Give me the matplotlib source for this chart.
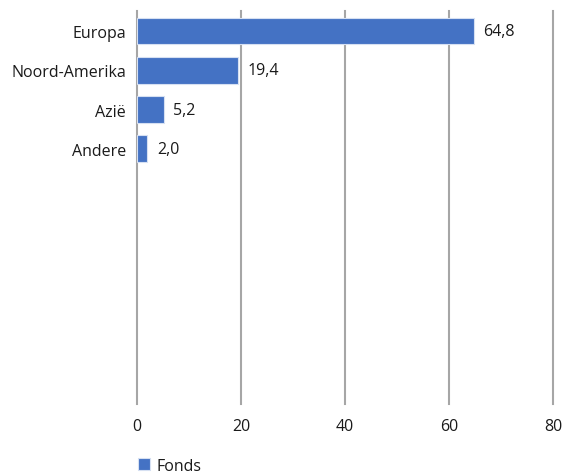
import numpy as np
import matplotlib.pyplot as plt

plt.rcParams['font.family'] = ['Open Sans', 'DejaVu Sans']

categories = ['Europa', 'Noord-Amerika', 'Azië', 'Andere']
values = [64.8, 19.4, 5.2, 2.0]
series_name = 'Fonds'
xticks = [0, 20, 40, 60, 80]
n_slots = 10  # chart keeps room for 10 rows, only 4 filled

bar_color = '#4472C4'
grid_color = '#A6A6A6'
text_color = '#1A1A1A'

fig = plt.figure(figsize=(5.65, 4.77), dpi=100)
ax = fig.add_axes([0.2425, 0.151, 0.7365, 0.823])

y = np.arange(len(categories))
bars = ax.barh(y, values, height=0.68, color=bar_color, edgecolor='#D6E0F2',
               linewidth=0.8, label=series_name, zorder=3)

for b, v in zip(bars, values):
    ax.text(b.get_width() + 1.8, b.get_y() + b.get_height() / 2,
            f'{v:.1f}'.replace('.', ','), va='center', ha='left',
            fontsize=11.5, color=text_color)

ax.set_xlim(0, 80)
ax.set_ylim(n_slots - 0.5, -0.5)
ax.set_xticks(xticks)
ax.set_xticklabels([str(t) for t in xticks], fontsize=11.5, color=text_color)
ax.set_yticks(y)
ax.set_yticklabels(categories, fontsize=11.5, color=text_color)
ax.tick_params(axis='both', length=0)
ax.tick_params(axis='x', pad=10)
ax.tick_params(axis='y', pad=8)

ax.xaxis.grid(True, color=grid_color, linewidth=1.5, zorder=0)
for gl in ax.get_xgridlines():
    gl.set_clip_on(False)
ax.set_axisbelow(True)
for s in ax.spines.values():
    s.set_visible(False)

fig.legend(handles=[bars], labels=[series_name], loc='lower left',
           bbox_to_anchor=(0.218, -0.025), frameon=False, fontsize=11.5,
           handlelength=0.8, handleheight=0.8, handletextpad=0.4,
           labelcolor=text_color)

fig.savefig('out.png', dpi=100)
